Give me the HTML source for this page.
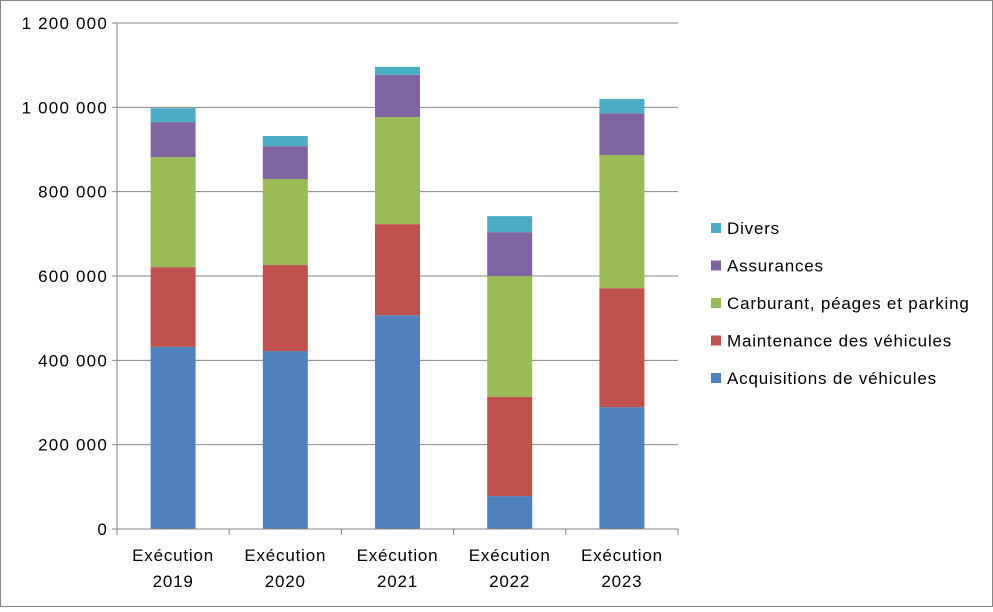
<!DOCTYPE html>
<html><head><meta charset="utf-8"><style>
body{margin:0;background:#fff;}
svg text{font-family:"Liberation Sans",sans-serif;font-size:17px;fill:#000;letter-spacing:0.8px;}
svg text.yt{letter-spacing:1.2px;}
</style></head><body>
<svg id="c" width="993" height="607" xmlns="http://www.w3.org/2000/svg">
<rect x="0.5" y="0.5" width="992" height="606" fill="#fff" stroke="#868686"/>
<g id="grid"></g><g id="bars"></g><g id="axes"></g><g id="legend"></g>
</svg>
<script>
const categories=[["Exécution","2019"],["Exécution","2020"],["Exécution","2021"],["Exécution","2022"],["Exécution","2023"]];
const seriesNames=["Acquisitions de véhicules","Maintenance des véhicules","Carburant, péages et parking","Assurances","Divers"];
const acquisitions=[432000,422000,507000,78000,289000];
const maintenance=[189000,204000,216000,235000,282000];
const carburant=[261000,204000,254000,287000,316000];
const assurances=[83000,78000,100000,104000,99000];
const divers=[33000,24000,19000,38000,34000];
const yTicks=[0,200000,400000,600000,800000,1000000,1200000];
const yTickLabels=["0","200 000","400 000","600 000","800 000","1 000 000","1 200 000"];
const colors=["#4f81bd","#c0504d","#9bbb59","#8064a2","#4bacc6"];
const series=[acquisitions,maintenance,carburant,assurances,divers];
const NS="http://www.w3.org/2000/svg";
const L=117,R=678,T=23,B=529,yMax=1200000;
const y=v=>B-(v/yMax)*(B-T);
const bw=(R-L)/categories.length;
const x=i=>L+bw*(i+0.5);
function mk(t,a,p){const e=document.createElementNS(NS,t);for(const k in a)e.setAttribute(k,a[k]);p.appendChild(e);return e;}
const grid=document.getElementById('grid'),bars=document.getElementById('bars'),axes=document.getElementById('axes'),legend=document.getElementById('legend');
yTicks.forEach((v,i)=>{
 const g=mk('line',{x1:L,x2:R,y1:y(v),y2:y(v),stroke:'#868686','stroke-width':1},grid);
 
 
 const tk=mk('line',{x1:L-5,x2:L,y1:y(v),y2:y(v),stroke:'#868686'},axes);
 
 
 const t=mk('text',{x:L-9,y:y(v)+6,'text-anchor':'end','class':'yt'},axes);t.textContent=yTickLabels[i];
 
 
});
const ya=mk('line',{x1:L,x2:L,y1:T,y2:B,stroke:'#868686'},axes);


const xa=mk('line',{x1:L,x2:R,y1:B,y2:B,stroke:'#868686'},axes);


for(let i=0;i<=categories.length;i++){
 const tk=mk('line',{x1:L+bw*i,x2:L+bw*i,y1:B,y2:B+6,stroke:'#868686'},axes);
 
 
}
categories.forEach((c,i)=>{
 let cum=0;
 series.forEach((s,k)=>{
  const r=mk('rect',{x:x(i)-22.5,width:45,y:y(cum+s[i]),height:y(cum)-y(cum+s[i]),fill:colors[k]},bars);
  
  
  cum+=s[i];
 });
 c.forEach((ln,j)=>{
  const t=mk('text',{x:x(i),y:B+32+j*26,'text-anchor':'middle'},axes);t.textContent=ln;
  
  
 });
});
for(let k=seriesNames.length-1;k>=0;k--){
 const ly=228+(seriesNames.length-1-k)*37.5;
 const s=mk('rect',{x:711,y:ly-5,width:10,height:10,fill:colors[k]},legend);
 
 
 const t=mk('text',{x:727,y:ly+6},legend);t.textContent=seriesNames[k];
 
 
}
</script>
</body></html>
